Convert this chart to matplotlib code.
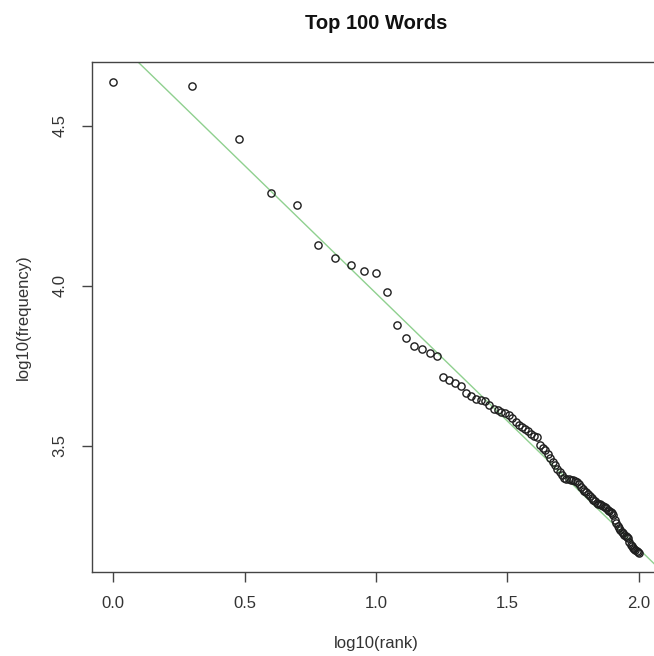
import matplotlib
matplotlib.use("Agg")
import matplotlib.pyplot as plt
import numpy as np

plt.rcParams['font.family'] = ['Liberation Sans', 'DejaVu Sans']

# word ranks 1..100 and log10 of their frequencies
ranks = np.arange(1, 101)
log_freq = [
    4.638, 4.626, 4.459, 4.292, 4.252, 4.129, 4.088, 4.065, 4.046, 4.039,
    3.982, 3.878, 3.838, 3.812, 3.802, 3.790, 3.781, 3.717, 3.706, 3.698,
    3.688, 3.667, 3.655, 3.648, 3.644, 3.640, 3.629, 3.617, 3.611, 3.607,
    3.604, 3.596, 3.586, 3.576, 3.567, 3.560, 3.554, 3.547, 3.536, 3.531,
    3.528, 3.503, 3.494, 3.488, 3.475, 3.462, 3.450, 3.440, 3.428, 3.418,
    3.410, 3.401, 3.398, 3.396, 3.394, 3.392, 3.390, 3.388, 3.382, 3.372,
    3.366, 3.360, 3.355, 3.349, 3.344, 3.337, 3.332, 3.327, 3.323, 3.320,
    3.318, 3.316, 3.313, 3.309, 3.305, 3.301, 3.298, 3.294, 3.289, 3.284,
    3.270, 3.258, 3.251, 3.243, 3.237, 3.232, 3.228, 3.222, 3.218, 3.214,
    3.211, 3.200, 3.190, 3.186, 3.182, 3.178, 3.175, 3.172, 3.168, 3.165,
]
# fitted line (abline)
fit_intercept = 4.776
fit_slope = -0.799

x_ticks = [0.0, 0.5, 1.0, 1.5, 2.0]
y_ticks = [3.5, 4.0, 4.5]

W, H = 654, 656
fig = plt.figure(figsize=(W / 100, H / 100), dpi=100)
left, right, top, bottom = 92, 660, 62, 572
ax = fig.add_axes([left / W, 1 - bottom / H, (right - left) / W, (bottom - top) / H])

x = np.log10(ranks)
ax.axline((0, fit_intercept), slope=fit_slope, color='#8fd08f', lw=1.0, zorder=1)
ax.plot(x, log_freq, linestyle='none', marker='o', markersize=5.2,
        markerfacecolor='none', markeredgecolor='#1e1e1e', markeredgewidth=1.0, zorder=2)

ax.set_xlim(-0.08, 2.08)
ax.set_ylim(3.106, 4.70)
ax.set_xticks(x_ticks)
ax.set_xticklabels(["%.1f" % v for v in x_ticks])
ax.set_yticks(y_ticks)
ax.set_yticklabels(["%.1f" % v for v in y_ticks], rotation=90, va='center')

for s in ax.spines.values():
    s.set_color('#444444')
    s.set_linewidth(1.0)
ax.tick_params(direction='out', length=7.5, width=1.0, color='#444444',
               labelsize=12, labelcolor='#333333')
ax.tick_params(axis='x', pad=10)
ax.tick_params(axis='y', pad=10)

ax.set_title("Top 100 Words", fontsize=14.5, fontweight='bold', color='#111111', pad=24)
ax.set_xlabel("log10(rank)", fontsize=12, color='#333333', labelpad=18)
ax.set_ylabel("log10(frequency)", fontsize=12, color='#333333', labelpad=16)

fig.savefig("out.png", dpi=100)
